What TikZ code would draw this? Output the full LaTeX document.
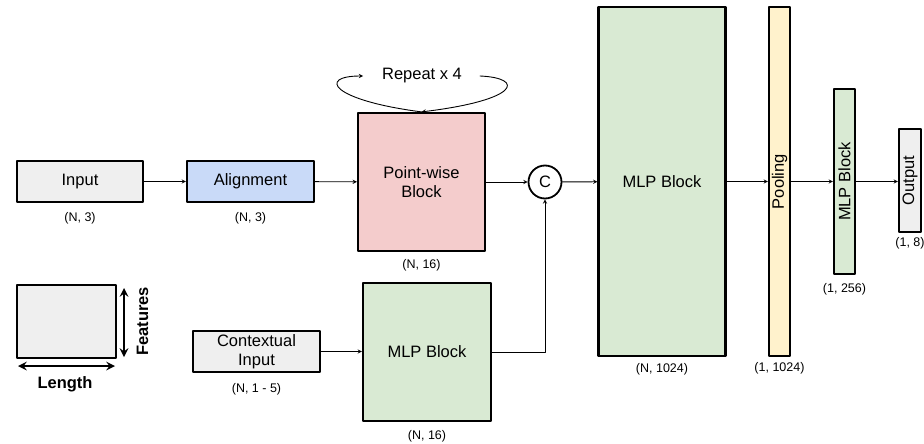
\documentclass[tikz,border=0pt]{standalone}
\usepackage{fontspec}
\setmainfont{Liberation Sans}
\usetikzlibrary{positioning}
\definecolor{gry}{HTML}{EFEFEF}
\definecolor{blu}{HTML}{C9DAF8}
\definecolor{pnk}{HTML}{F4CCCC}
\definecolor{grn}{HTML}{D9EAD3}
\definecolor{ylw}{HTML}{FFF2CC}
\begin{document}
\begin{tikzpicture}[x=1pt, y=-1pt, line join=round, line cap=round, >=stealth,
		font=\fontsize{16.5}{19.5}\selectfont,
		box/.style={draw, line width=2.2pt, inner sep=0pt, align=center},
		dim/.style={inner sep=0pt, font=\fontsize{12.5}{14}\selectfont},
		link/.style={->, line width=0.9pt}]
				\useasboundingbox (0,0) rectangle (924,444);
				\path
				(80,181.5) coordinate (I)
				(250.5,181.5) coordinate (A)
				(421.5,182) coordinate (P)
				(545,182) coordinate (C)
				(662,181.5) coordinate (M)
				(779.5,181.5) coordinate (Q)
				(844.5,181.5) coordinate (B)
				(910,180.5) coordinate (O)
				(256.5,351.5) coordinate (X)
				(427,352) coordinate (K)
				(66.5,321.5) coordinate (L)
				;
				\node[box, fill=gry, minimum width=126pt, minimum height=41pt] (inp) at (I) {Input};
				\node[box, fill=blu, minimum width=127pt, minimum height=41pt] (aln) at (A) {Alignment};
				\node[box, fill=pnk, minimum width=127pt, minimum height=138pt] (pw) at (P) {Point-wise\\Block};
				\node[box, circle, fill=white, minimum size=33pt, line width=1.8pt] (cat) at (C) {C};
				\node[box, fill=grn, minimum width=127pt, minimum height=349pt] (mlpa) at (M) {MLP Block};
				\node[box, fill=ylw, minimum width=21pt, minimum height=349pt] (pool) at (Q) {\rotatebox{90}{Pooling}};
				\node[box, fill=grn, minimum width=21pt, minimum height=185pt] (mlpb) at (B) {\rotatebox{90}{MLP Block}};
				\node[box, fill=gry, minimum width=22pt, minimum height=103pt] (out) at (O) {\rotatebox{90}{Output}};
				\node[box, fill=gry, minimum width=127pt, minimum height=41pt] (ctx) at (X) {Contextual\\Input};
				\node[box, fill=grn, minimum width=128pt, minimum height=138pt] (mlpc) at (K) {MLP Block};
				\node[box, fill=gry, minimum width=99pt, minimum height=73pt] (lgd) at (L) {};
				
				\node[dim, below=9pt of inp] {(N, 3)};
				\node[dim, below=9pt of aln] {(N, 3)};
				\node[dim, below=7pt of pw] {(N, 16)};
				\node[dim, below=6pt of mlpa] {(N, 1024)};
				\node[dim, below=5pt of pool] {(1, 1024)};
				\node[dim, below=8pt of mlpb] {(1, 256)};
				\node[dim, below=4pt of out] {(1, 8)};
				\node[dim, below=10pt of ctx] {(N, 1 - 5)};
				\node[dim, below=8pt of mlpc] {(N, 16)};
				
				\draw[link] (inp) -- (aln);
				\draw[link] (aln) -- (pw);
				\draw[link] (pw) -- (cat);
				\draw[link] (cat) -- (mlpa);
				\draw[link] (mlpa) -- (pool);
				\draw[link] (pool) -- (mlpb);
				\draw[link] (mlpb.east) -- (mlpb.east -| out.west);
				\draw[link] (ctx.east) -- (ctx.east -| mlpc.west);
				\draw[link, line cap=butt] (mlpc.east) -| (cat.south);
				
				% repeat loop
				\node (rep) at (422,76) {Repeat x 4};
				\path
				(363,76) coordinate (r1)
				(480,76) coordinate (r2)
				;
				\draw[link] (pw.north) .. controls (330,100) and (318,76) .. (r1);
				\draw[link] (r2) .. controls (525,78) and (520,100) .. (pw.north);
				
				% legend
				\path
				(18,366) coordinate (l1)
				(115,366) coordinate (l2)
				(124,288) coordinate (f1)
				(124,357) coordinate (f2)
				;
				\draw[<->, line width=2.8pt] (l1) -- (l2);
				\draw[<->, line width=2.8pt] (f1) -- (f2);
				\node[font=\fontsize{16.5}{19.5}\selectfont\bfseries] (len) at (65,384) {Length};
				\node[font=\fontsize{16.5}{19.5}\selectfont\bfseries, rotate=90] (fea) at (142.5,321.5) {Features};
			\end{tikzpicture}
\end{document}
